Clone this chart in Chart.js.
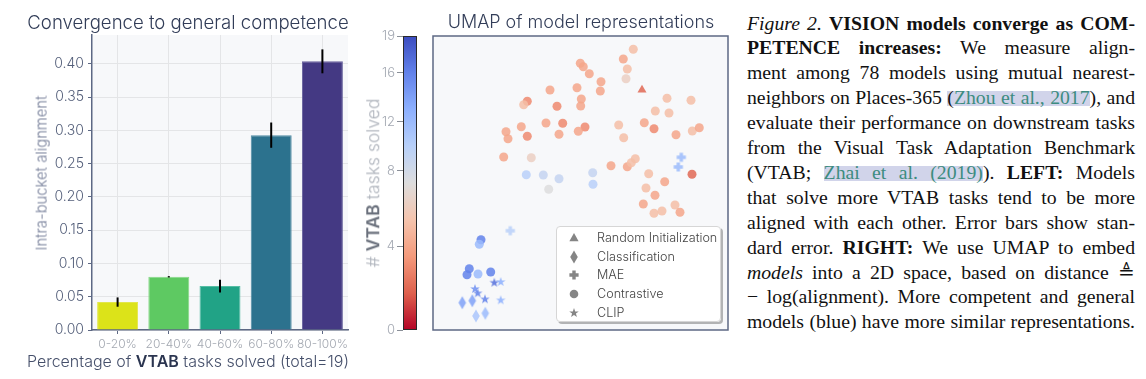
<!DOCTYPE html>
<html><head><meta charset="utf-8">
<script src="https://cdn.jsdelivr.net/npm/chart.js@4.4.1/dist/chart.umd.min.js"></script>
<style>
html,body{margin:0;padding:0;background:#fff;}
body{width:1146px;height:379px;position:relative;overflow:hidden;font-family:Inter,"Noto Sans",sans-serif;}
canvas{position:absolute;top:0;}
.ctr{position:absolute;white-space:nowrap;transform:translate(-50%,-50%);line-height:1;}
.rot{position:absolute;white-space:nowrap;transform:translate(-50%,-50%) rotate(-90deg);line-height:1;}
#legend{position:absolute;left:556px;top:226px;width:165px;height:96px;background:rgba(255,255,255,0.9);border:1px solid #d6d6d6;border-radius:4px;box-shadow:2px 2px 0 rgba(0,0,0,0.28);box-sizing:border-box;}
.lrow{position:absolute;left:0;height:18px;line-height:18px;font-size:12.6px;font-weight:300;color:#444;white-space:nowrap;}
.lrow canvas{position:absolute;left:9px;top:1px;}
.lrow span{position:absolute;left:40px;top:0;}
#caption{position:absolute;left:747px;top:10.5px;width:388px;font-family:"Liberation Serif","Times New Roman",serif;font-size:19px;color:#111;}
.ln{height:24.92px;line-height:24.92px;white-space:nowrap;}
.lk{color:#3d8c80;}
.hl{background:linear-gradient(to bottom,transparent 24%,#d1d4ea 24%,#d1d4ea 92%,transparent 92%);}
</style></head><body>

<canvas id="bar" width="370" height="379" style="left:0"></canvas>
<canvas id="cbar" width="60" height="379" style="left:370px"></canvas>
<canvas id="umap" width="370" height="379" style="left:370px"></canvas>

<div class="ctr" style="left:188px;top:22px;font-size:18.6px;font-weight:300;color:#323d58;">Convergence to general competence</div>
<div class="ctr" style="left:188px;top:361px;font-size:16px;font-weight:300;color:#454f6a;">Percentage of <b style="font-weight:600;color:#2b3550">VTAB</b> tasks solved (total=19)</div>
<div class="rot" style="left:42px;top:173px;font-size:14.8px;font-weight:300;color:#737c97;">Intra-bucket alignment</div>
<div class="ctr" style="left:581px;top:22px;font-size:18px;font-weight:300;color:#323d58;">UMAP of model representations</div>
<div class="rot" style="left:373px;top:183px;font-size:17.5px;font-weight:300;color:#abb0b9;"># <b style="font-weight:600;color:#6a707c">VTAB</b> tasks solved</div>

<div id="legend"></div>
<div id="caption"></div>

<script>
// ---------------- data: left bar chart ----------------
const BUCKETS = ['0-20%', '20-40%', '40-60%', '60-80%', '80-100%'];
const ALIGNMENT = [0.042, 0.080, 0.066, 0.293, 0.404];
const ALIGN_ERR = [0.007, 0.001, 0.0095, 0.019, 0.018];
const Y_TICKS = [0.00, 0.05, 0.10, 0.15, 0.20, 0.25, 0.30, 0.35, 0.40];

// ---------------- data: UMAP scatter ----------------
const UMAP_X = [200.3,190.3,194.3,193.0,209.0,147.3,150.3,156.3,168.0,167.3,144.0,117.0,148.3,147.7,124.0,94.3,90.7,113.0,129.7,152.0,145.3,126.0,88.3,73.0,75.0,94.3,70.7,98.3,93.3,110.3,126.0,115.7,159.7,160.0,185.7,190.7,211.3,221.0,234.0,222.3,236.0,258.0,243.0,259.3,266.3,178.0,194.3,198.3,202.3,259.0,215.7,231.7,213.0,222.0,210.3,242.0,221.0,229.0,247.0,248.3,245.3,77.3,48.0,46.3,36.3,34.0,45.0,57.7,61.3,67.7,42.0,44.7,52.0,67.7,29.3,39.3,43.0,52.3];
const UMAP_Y = [280.7,271.0,261.0,251.3,240.0,266.7,263.3,256.3,248.3,239.0,242.3,240.0,231.0,224.0,223.7,228.7,225.3,207.0,206.7,203.0,198.7,195.7,203.3,198.3,191.3,193.7,173.0,172.3,155.3,155.0,151.3,140.7,157.3,145.7,205.0,192.3,207.3,201.3,231.7,219.0,217.0,229.7,195.3,199.0,202.3,164.3,163.3,167.3,171.3,155.7,156.3,148.3,142.0,134.7,126.0,125.0,116.7,119.0,117.7,172.7,163.0,99.3,90.3,85.7,61.3,55.3,56.0,58.0,47.3,48.0,41.0,36.7,30.7,29.7,27.3,29.3,14.0,16.7];
const TASKS_SOLVED = [5,4,5,6,2,4,4,4,4,4,4,4,4,4,3,3,5,4,3,3,4,4,4,4,4,3,4,6,10,9,9,7,9,10,5,5,4,3,5,5,5,5,4,5,4,4,4,5,5,2,5,4,5,4,4,5,5,5,4,12,12,10,16,12,16,16,12,16,17,13,15,16,16,13,14,14,11,12];
const OBJECTIVE = ['con','con','con','con','rand','con','con','con','con','con','con','con','con','con','con','con','con','con','con','con','con','con','con','con','con','con','con','con','con','con','con','con','con','con','con','con','con','con','con','con','con','con','con','con','con','con','con','con','con','con','con','con','con','con','con','con','con','con','con','mae','mae','mae','con','con','con','con','con','con','clip','clip','clip','clip','clip','clip','cls','cls','cls','cls'];
const LEGEND_KEYS = ['rand', 'cls', 'mae', 'con', 'clip'];
const LEGEND_LABELS = ['Random Initialization', 'Classification', 'MAE', 'Contrastive', 'CLIP'];
const CB_TICKS = [0, 4, 8, 12, 16, 19];
const CB_MIN = 0, CB_CENTER = 7, CB_MAX = 19;

// ---------------- styles ----------------
const BAR_COLORS = ['#dce319', '#5ec962', '#21a386', '#2c728e', '#443983'];
const BAR_EDGES  = ['#e2e74a', '#86d886', '#55bda4', '#4f8aa3', '#67619c'];
const AXIS_COLOR = '#5d6884';
const PLOT_BG = '#f7f8fa';

// coolwarm colormap anchors
const CW = [[0,59,76,192],[0.125,98,130,234],[0.25,141,176,254],[0.375,184,208,249],[0.5,221,221,221],[0.625,245,196,173],[0.75,244,154,123],[0.875,222,96,77],[1,180,4,38]];
function coolwarm(t){
  t = Math.max(0, Math.min(1, t));
  for (let i = 0; i < CW.length - 1; i++) {
    const a = CW[i], b = CW[i+1];
    if (t <= b[0]) { const f = (t - a[0]) / (b[0] - a[0]); return [0,1,2].map(k => Math.round(a[k+1] + f*(b[k+1]-a[k+1]))); }
  }
  return [180,4,38];
}
function coolwarmR(t){ return coolwarm(1 - t); }
function norm(v){ return v <= CB_CENTER ? 0.5*(v-CB_MIN)/(CB_CENTER-CB_MIN) : 0.5 + 0.5*(v-CB_CENTER)/(CB_MAX-CB_CENTER); }
function colorOf(v, a){ const c = coolwarmR(norm(v)); return `rgba(${c[0]},${c[1]},${c[2]},${a})`; }

const markerCache = {};
function makeMarker(shape, color){
  const key = shape + color;
  if (markerCache[key]) return markerCache[key];
  const c = document.createElement('canvas'); c.width = 16; c.height = 16;
  const g = c.getContext('2d'); g.fillStyle = color; g.translate(8, 8); g.beginPath();
  if (shape === 'cls') { g.moveTo(0,-6.5); g.lineTo(3.8,0); g.lineTo(0,6.5); g.lineTo(-3.8,0); g.closePath(); }
  else if (shape === 'mae') {
    const a = 1.7, b = 4.6;
    const pts = [[-a,-b],[a,-b],[a,-a],[b,-a],[b,a],[a,a],[a,b],[-a,b],[-a,a],[-b,a],[-b,-a],[-a,-a]];
    pts.forEach((p,i)=> i ? g.lineTo(p[0],p[1]) : g.moveTo(p[0],p[1])); g.closePath();
  }
  else if (shape === 'clip') {
    for (let i = 0; i < 10; i++) { const r = i % 2 ? 2.0 : 5.0; const ang = -Math.PI/2 + i*Math.PI/5; const x = r*Math.cos(ang), y = r*Math.sin(ang); i ? g.lineTo(x,y) : g.moveTo(x,y); }
    g.closePath();
  }
  else if (shape === 'rand') { g.moveTo(0,-5); g.lineTo(4.6,3.3); g.lineTo(-4.6,3.3); g.closePath(); }
  else { g.arc(0,0,4.3,0,Math.PI*2); }
  g.fill();
  markerCache[key] = c; return c;
}

// ---------------- plugins ----------------
const plotBg = {
  id: 'plotBg',
  beforeDraw(chart, args, opts){ const a = chart.chartArea, ctx = chart.ctx; ctx.save(); ctx.fillStyle = opts.color || PLOT_BG; ctx.fillRect(a.left, a.top, a.right-a.left, a.bottom-a.top); ctx.restore(); }
};
const errorBars = {
  id: 'errorBars',
  afterDatasetsDraw(chart){
    const ctx = chart.ctx, ys = chart.scales.y, meta = chart.getDatasetMeta(0);
    ctx.save(); ctx.strokeStyle = '#000'; ctx.lineWidth = 2;
    meta.data.forEach((el, i) => {
      ctx.beginPath(); ctx.moveTo(el.x, ys.getPixelForValue(ALIGNMENT[i] - ALIGN_ERR[i]));
      ctx.lineTo(el.x, ys.getPixelForValue(ALIGNMENT[i] + ALIGN_ERR[i])); ctx.stroke();
    });
    ctx.restore();
  }
};
const frame = {
  id: 'frame',
  afterDraw(chart){ const a = chart.chartArea, ctx = chart.ctx; ctx.save(); ctx.strokeStyle = AXIS_COLOR; ctx.lineWidth = 1.5; ctx.strokeRect(a.left, a.top, a.right-a.left, a.bottom-a.top); ctx.restore(); }
};
const gradientFill = {
  id: 'gradientFill',
  beforeDatasetsDraw(chart){
    const a = chart.chartArea, ctx = chart.ctx;
    const gr = ctx.createLinearGradient(0, a.bottom, 0, a.top);
    for (let i = 0; i <= 40; i++) { const t = i/40; const c = coolwarmR(t); gr.addColorStop(t, `rgb(${c[0]},${c[1]},${c[2]})`); }
    ctx.save(); ctx.fillStyle = gr; ctx.fillRect(a.left, a.top, a.right-a.left, a.bottom-a.top);
    ctx.strokeStyle = '#2a2a2a'; ctx.lineWidth = 1; ctx.strokeRect(a.left+0.5, a.top+0.5, a.right-a.left-1, a.bottom-a.top-1);
    ctx.restore();
  }
};

Chart.defaults.font.family = 'Inter, "Noto Sans", sans-serif';
Chart.defaults.animation = false;

// ---------------- bar chart ----------------
new Chart(document.getElementById('bar'), {
  type: 'bar',
  data: { labels: BUCKETS, datasets: [{ data: ALIGNMENT, backgroundColor: BAR_COLORS, borderColor: BAR_EDGES, borderWidth: 1, barPercentage: 0.8, categoryPercentage: 1.0 }] },
  options: {
    responsive: false, devicePixelRatio: 1,
    layout: { padding: { left: 0, right: 22, top: 35, bottom: 0 } },
    plugins: { legend: { display: false }, tooltip: { enabled: false }, plotBg: { color: PLOT_BG } },
    scales: {
      x: {
        grid: { offset: false, color: '#e4e5e7', lineWidth: 1, tickColor: AXIS_COLOR, tickLength: 4 },
        border: { color: AXIS_COLOR, width: 1.5 },
        ticks: { color: '#a3a8b1', font: { size: 12, weight: 300 }, padding: 3, maxRotation: 0, autoSkip: false },
        afterFit(s){ s.height = 49; }
      },
      y: {
        min: 0, max: 0.4436,
        afterBuildTicks(s){ s.ticks = Y_TICKS.map(v => ({ value: v })); },
        grid: { color: '#e4e5e7', lineWidth: 1, tickColor: AXIS_COLOR, tickLength: 4 },
        border: { color: AXIS_COLOR, width: 1.5 },
        ticks: { callback: v => Number(v).toFixed(2), color: '#535e79', font: { size: 14, weight: 300 }, padding: 4 },
        afterFit(s){ s.width = 92; }
      }
    }
  },
  plugins: [plotBg, errorBars]
});

// ---------------- colorbar ----------------
new Chart(document.getElementById('cbar'), {
  type: 'scatter',
  data: { datasets: [{ data: [] }] },
  options: {
    responsive: false, devicePixelRatio: 1,
    layout: { padding: { left: 0, right: 13, top: 36, bottom: 49 } },
    plugins: { legend: { display: false }, tooltip: { enabled: false } },
    scales: {
      x: { display: false, min: 0, max: 1 },
      y: {
        position: 'left', min: 0, max: 1,
        afterBuildTicks(s){ s.ticks = CB_TICKS.map(v => ({ value: norm(v) })); },
        grid: { drawOnChartArea: false, tickColor: '#8a8f98', tickLength: 6 },
        border: { display: false },
        ticks: { callback: (v, i) => String(CB_TICKS[i]), color: '#a3a8b2', font: { size: 13, weight: 300 }, padding: 2 },
        afterFit(s){ s.width = 33; }
      }
    }
  },
  plugins: [gradientFill]
});

// ---------------- UMAP scatter ----------------
const datasets = LEGEND_KEYS.map(kind => {
  const pts = [];
  UMAP_X.forEach((x, i) => { if (OBJECTIVE[i] === kind) pts.push({ x: x, y: UMAP_Y[i], v: TASKS_SOLVED[i] }); });
  return {
    label: kind, data: pts,
    pointStyle: kind === 'con' ? 'circle' : (kind === 'rand' ? 'triangle' : (c => makeMarker(kind, colorOf(c.raw.v, 0.85)))),
    pointRadius: kind === 'con' ? 4.5 : 5.2,
    pointBorderWidth: 0,
    pointBackgroundColor: c => colorOf(c.raw.v, 0.85),
    pointBorderColor: 'rgba(0,0,0,0)'
  };
});
const order = ['con', 'rand', 'mae', 'cls', 'clip'];
datasets.sort((a, b) => order.indexOf(b.label) - order.indexOf(a.label));

new Chart(document.getElementById('umap'), {
  type: 'scatter',
  data: { datasets: datasets },
  options: {
    responsive: false, devicePixelRatio: 1,
    layout: { padding: { left: 63, right: 12, top: 36, bottom: 49 } },
    plugins: { legend: { display: false }, tooltip: { enabled: false }, plotBg: { color: PLOT_BG } },
    scales: { x: { display: false, min: 0, max: 295 }, y: { display: false, min: 0, max: 294 } }
  },
  plugins: [plotBg, frame]
});

// ---------------- legend (HTML) ----------------
const leg = document.getElementById('legend');
LEGEND_KEYS.forEach((k, i) => {
  const row = document.createElement('div'); row.className = 'lrow'; row.style.top = (2 + i * 18.7) + 'px';
  const m = makeMarker(k, '#858585'); const mc = document.createElement('canvas'); mc.width = 16; mc.height = 16;
  mc.getContext('2d').drawImage(m, 0, 0); row.appendChild(mc);
  const s = document.createElement('span'); s.textContent = LEGEND_LABELS[i]; row.appendChild(s);
  leg.appendChild(row);
});

// ---------------- caption ----------------
const CAPTION_LINES = [
  '<i>Figure 2.</i> <b>VISION models converge as COM-</b>',
  '<b>PETENCE increases:</b> We measure align-',
  'ment among 78 models using mutual nearest-',
  'neighbors on Places-365 <span class="hl">(<span class="lk">Zhou et al., 2017</span></span>), and',
  'evaluate their performance on downstream tasks',
  'from the Visual Task Adaptation Benchmark',
  '(VTAB; <span class="hl lk">Zhai et al. (2019)</span>). <b>LEFT:</b> Models',
  'that solve more VTAB tasks tend to be more',
  'aligned with each other. Error bars show stan-',
  'dard error. <b>RIGHT:</b> We use UMAP to embed',
  '<i>models</i> into a 2D space, based on distance \u225C',
  '\u2212 log(alignment). More competent and general',
  'models (blue) have more similar representations.'
];
const cap = document.getElementById('caption');
CAPTION_LINES.forEach(h => { const d = document.createElement('div'); d.className = 'ln'; d.innerHTML = '<span>' + h + '</span>'; cap.appendChild(d); });
function justify(){
  const lines = cap.querySelectorAll('.ln');
  lines.forEach(d => { d.style.wordSpacing = '0px'; d.style.letterSpacing = '0px'; });
  // the paragraph's last line is set at natural spacing and spans the full column
  cap.style.fontSize = '19px';
  const last = lines[lines.length - 1].firstChild;
  const wl = last.getBoundingClientRect().width;
  cap.style.fontSize = (19 * 386 / wl) + 'px';
  lines.forEach(d => {
    const s = d.firstChild;
    let w = s.getBoundingClientRect().width; const n = (s.textContent.match(/ /g) || []).length;
    if (w > 388) { const chars = s.textContent.length; d.style.letterSpacing = ((388 - w) / chars) + 'px'; w = s.getBoundingClientRect().width; }
    if (n) d.style.wordSpacing = ((388 - w) / n) + 'px';
  });
}
justify();
if (document.fonts && document.fonts.ready) document.fonts.ready.then(justify);
</script>
</body></html>
